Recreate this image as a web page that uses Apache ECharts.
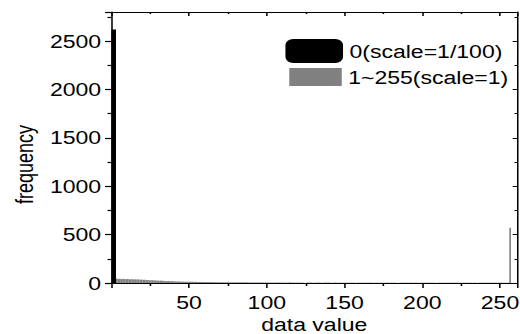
<!DOCTYPE html>
<html>
<head>
<meta charset="utf-8">
<script src="https://cdn.jsdelivr.net/npm/echarts@6/dist/echarts.min.js"></script>
<style>
  html, body { margin: 0; padding: 0; background: #fff; }
  /* the reference figure is stretched sideways, so draw narrow and stretch */
  #main { width: 406px; height: 334px; transform: scaleX(1.28); transform-origin: 0 0; }
</style>
</head>
<body>
<div id="main"></div>
<script>
const zeroName = '0(scale=1/100)'
const grayName = '1~255(scale=1)'

// count of value 0, already divided by 100
const zeroCount = 2620

// counts of values 1..255
const grayCounts = [
  62, 44, 42, 45, 40, 43, 41, 38, 42, 39,
  37, 40, 36, 38, 35, 37, 33, 36, 32, 34,
  30, 31, 29, 28, 30, 26, 27, 25, 24, 25,
  22, 23, 21, 20, 21, 19, 18, 19, 17, 16,
  16, 15, 15, 14, 14, 13, 13, 12, 13, 12,
  12, 11, 12, 10, 11, 10, 11, 10, 9, 10,
  9, 10, 9, 8, 9, 8, 9, 8, 8, 7,
  8, 7, 8, 7, 7, 6, 7, 7, 6, 7,
  6, 7, 6, 6, 7, 6, 5, 6, 6, 5,
  6, 5, 6, 5, 5, 6, 5, 5, 4, 5,
  5, 4, 5, 3, 4, 5, 4, 3, 4, 4,
  3, 4, 5, 4, 3, 4, 2, 4, 3, 4,
  4, 3, 0, 3, 4, 3, 4, 2, 3, 4,
  3, 4, 3, 3, 2, 4, 3, 4, 3, 2,
  3, 3, 4, 2, 3, 3, 2, 3, 4, 3,
  4, 3, 3, 2, 3, 0, 3, 3, 2, 3,
  3, 2, 3, 3, 4, 3, 2, 3, 3, 2,
  2, 3, 3, 2, 3, 4, 3, 2, 3, 3,
  3, 2, 0, 3, 2, 3, 3, 2, 3, 2,
  4, 3, 2, 3, 3, 2, 3, 3, 2, 3,
  3, 2, 3, 2, 3, 3, 2, 0, 3, 2,
  2, 3, 3, 2, 3, 2, 3, 3, 2, 3,
  3, 2, 3, 3, 2, 3, 2, 3, 2, 3,
  2, 3, 2, 0, 3, 2, 3, 3, 2, 3,
  3, 2, 3, 2, 3, 2, 2, 3, 4, 3,
  3, 2, 3, 3, 572
]

const xTicks = [50, 100, 150, 200, 250]
const yTicks = [0, 500, 1000, 1500, 2000, 2500]

// bins are drawn centred half a step past their value, as in the original
const binShift = 1.5

const font = 'Arial, "Liberation Sans", sans-serif'
const lineStyle = { color: '#000', width: 1.2 }

const myChart = echarts.init(document.getElementById('main'), null, { renderer: 'svg' })

const xBase = {
  type: 'value',
  min: 0,
  max: 261,
  interval: 50,
  splitLine: { show: false },
  axisLine: { show: true, onZero: false, lineStyle: lineStyle },
  minorTick: { show: true, splitNumber: 2, length: 3, lineStyle: lineStyle }
}
const yBase = {
  type: 'value',
  min: 0,
  max: 2800,
  interval: 500,
  splitLine: { show: false },
  axisLine: { show: true, onZero: false, lineStyle: lineStyle },
  minorTick: { show: true, splitNumber: 2, length: 3, lineStyle: lineStyle }
}

const option = {
  animation: false,
  backgroundColor: '#fff',
  grid: { left: 87, right: 2, top: 12, bottom: 51, outerBoundsMode: 'none', containLabel: false },
  legend: [
    {
      data: [{ name: zeroName, icon: 'roundRect' }],
      left: 223, top: 39, padding: 0,
      itemWidth: 45, itemHeight: 24,
      textStyle: { color: '#000', fontSize: 18, fontFamily: font }
    },
    {
      data: [{ name: grayName, icon: 'rect' }],
      left: 226, top: 68, padding: 0,
      itemWidth: 41, itemHeight: 18,
      textStyle: { color: '#000', fontSize: 18, fontFamily: font }
    }
  ],
  xAxis: [
    Object.assign({}, xBase, {
      position: 'bottom',
      name: 'data value',
      nameLocation: 'middle',
      nameGap: 27,
      nameTextStyle: { color: '#000', fontSize: 18, fontFamily: font },
      axisTick: { show: true, length: 5, lineStyle: lineStyle },
      axisLabel: {
        color: '#000', fontSize: 18, fontFamily: font, margin: 10,
        formatter: (v) => xTicks.includes(v) ? String(v) : ''
      }
    }),
    Object.assign({}, xBase, {
      position: 'top',
      axisTick: { show: true, inside: true, length: 4, lineStyle: lineStyle },
      minorTick: { show: true, splitNumber: 2, length: 2, lineStyle: lineStyle },
      axisLabel: { show: false }
    })
  ],
  yAxis: [
    Object.assign({}, yBase, {
      position: 'left',
      name: 'frequency',
      nameLocation: 'middle',
      nameGap: 47,
      nameRotate: 90,
      nameTextStyle: { color: '#000', fontSize: 18, fontFamily: font, padding: [0, 34, 0, 0] },
      axisTick: { show: true, length: 5, lineStyle: lineStyle },
      axisLabel: {
        color: '#000', fontSize: 18, fontFamily: font, margin: 8,
        formatter: (v) => yTicks.includes(v) ? String(v) : ''
      }
    }),
    Object.assign({}, yBase, {
      position: 'right',
      axisTick: { show: true, inside: true, length: 3.5, lineStyle: lineStyle },
      minorTick: { show: true, splitNumber: 2, length: 2, lineStyle: lineStyle },
      axisLabel: { show: false }
    })
  ],
  series: [
    {
      name: grayName,
      type: 'bar',
      xAxisIndex: 0,
      yAxisIndex: 0,
      barWidth: 1.3,
      itemStyle: { color: '#808080' },
      data: grayCounts.map((c, i) => [i + 1 + binShift, c])
    },
    {
      name: zeroName,
      type: 'bar',
      xAxisIndex: 1,
      yAxisIndex: 0,
      barWidth: 3.6,
      itemStyle: { color: '#000' },
      data: [[0 + binShift, zeroCount]]
    }
  ]
}

myChart.setOption(option)
</script>
</body>
</html>
